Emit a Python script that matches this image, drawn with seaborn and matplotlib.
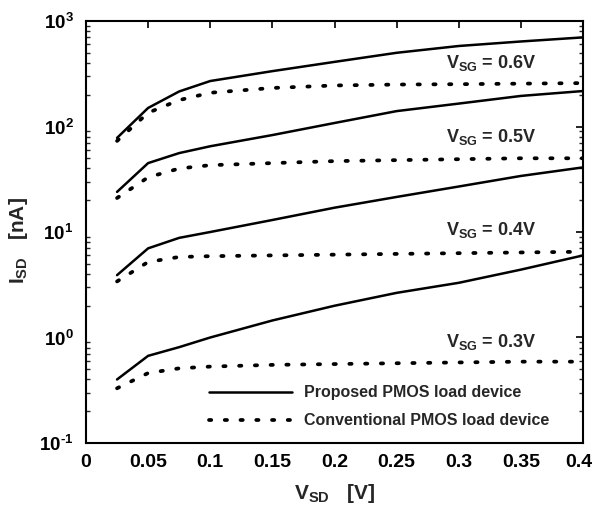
import numpy as np
import pandas as pd
import matplotlib
matplotlib.use("Agg")
import matplotlib.pyplot as plt
import matplotlib.transforms as mtransforms
import seaborn as sns
from matplotlib.ticker import FixedLocator, LogLocator, NullFormatter, NullLocator

sns.set_theme(style="white")
plt.rcParams['font.family'] = ['Liberation Sans', 'DejaVu Sans']
plt.rcParams['mathtext.fontset'] = 'custom'
plt.rcParams['mathtext.rm'] = 'Liberation Sans:bold'
plt.rcParams['mathtext.bf'] = 'Liberation Sans:bold'
plt.rcParams['mathtext.it'] = 'Liberation Sans:bold'
plt.rcParams['mathtext.default'] = 'bf'

# ---- data ----
vsd = [0.025, 0.05, 0.075, 0.1, 0.15, 0.2, 0.25, 0.3, 0.35, 0.4]
prop_06 = [78, 150, 215, 270, 335, 410, 500, 580, 640, 700]
conv_06 = [73, 135, 178, 209, 232, 245, 250, 252, 255, 258]
prop_05 = [24, 45, 56, 65, 83, 108, 140, 165, 195, 217]
conv_05 = [21, 33, 40, 43, 45, 47, 48, 49, 50, 50]
prop_04 = [3.9, 7.0, 8.8, 10, 13, 17, 21.5, 27, 34, 41]
conv_04 = [3.4, 5.2, 5.8, 5.9, 6.0, 6.1, 6.2, 6.3, 6.4, 6.5]
prop_03 = [0.40, 0.67, 0.81, 1.0, 1.45, 2.0, 2.65, 3.3, 4.4, 6.0]
conv_03 = [0.33, 0.46, 0.51, 0.53, 0.55, 0.56, 0.57, 0.58, 0.59, 0.59]
vsg_labels = ["0.6", "0.5", "0.4", "0.3"]
series_names = ["Proposed PMOS load device", "Conventional PMOS load device"]
x_ticks = [0, 0.05, 0.1, 0.15, 0.2, 0.25, 0.3, 0.35, 0.4]
x_ticklabels = ["0", "0.05", "0.1", "0.15", "0.2", "0.25", "0.3", "0.35", "0.4"]
y_ticks = [0.1, 1, 10, 100, 1000]
y_ticklabels = [r"$10^{\text{-}1}$", r"$10^{0}$", r"$10^{1}$", r"$10^{2}$", r"$10^{3}$"]
label_y = [400, 80, 10.4, 0.9]

rows = []
for vsg, p, c in zip(vsg_labels, [prop_06, prop_05, prop_04, prop_03],
                     [conv_06, conv_05, conv_04, conv_03]):
    for x, yp, yc in zip(vsd, p, c):
        rows.append(dict(vsd=x, isd=yp, device=series_names[0], vsg=vsg))
        rows.append(dict(vsd=x, isd=yc, device=series_names[1], vsg=vsg))
df = pd.DataFrame(rows)

fig = plt.figure(figsize=(5.95, 5.13), dpi=100)
ax = fig.add_axes([0.1445, 0.1365, 0.8355, 0.8225])

for name, ls, lw in [(series_names[0], '-', 1.8), (series_names[1], (0, (0.6, 3.6)), 2.7)]:
    sub = df[df.device == name]
    first = True
    for vsg in vsg_labels:
        s = sub[sub.vsg == vsg]
        sns.lineplot(data=s, x='vsd', y='isd', ax=ax, color='black',
                     linestyle=ls, linewidth=lw, estimator=None, sort=True,
                     label=name if first else None, legend=False,
                     dash_capstyle='round')
        first = False

ax.set_yscale('log')
ax.set_xlim(0, 0.4)
ax.set_ylim(0.1, 1000)
ax.xaxis.set_major_locator(FixedLocator(x_ticks))
ax.set_xticklabels(x_ticklabels, fontsize=14, fontweight='bold')
ax.yaxis.set_major_locator(FixedLocator(y_ticks))
ax.set_yticklabels(y_ticklabels, fontsize=13.5)
ax.yaxis.set_minor_locator(LogLocator(base=10, subs=np.arange(2, 10)))
ax.yaxis.set_minor_formatter(NullFormatter())
ax.xaxis.set_minor_locator(NullLocator())
ax.tick_params(axis='both', which='major', direction='in', top=True, right=True,
               length=5, width=1.2, colors='black')
ax.tick_params(axis='x', which='major', pad=8)
ax.tick_params(axis='y', which='major', pad=9)
ax.tick_params(axis='y', which='minor', direction='in', left=True, right=True,
               length=3, width=1.0)
for sp in ax.spines.values():
    sp.set_linewidth(1.5)
    sp.set_color('black')

# nudge the last x tick label so it stays inside the figure
last_lbl = ax.get_xticklabels()[-1]
last_lbl.set_transform(last_lbl.get_transform() +
                       mtransforms.ScaledTranslation(-4 / 100, 0, fig.dpi_scale_trans))

ax.set_xlabel(r"V$_{SD}$   [V]", fontsize=15, fontweight='bold', labelpad=8)
ax.set_ylabel(r"I$_{SD}$   [nA]", fontsize=15, fontweight='bold')
ax.yaxis.set_label_coords(-0.112, 0.48)

for vsg, yy in zip(vsg_labels, label_y):
    ax.text(0.29, yy, r"V$_{SG}$ = " + vsg + "V", fontsize=13, fontweight='bold',
            ha='left', va='center')

handles = ax.get_lines()
leg_handles = [h for h in handles if h.get_label() in series_names]
ax.legend(handles=leg_handles, labels=series_names, loc='lower right',
          frameon=False, prop={'weight': 'bold', 'size': 11.5},
          handlelength=5.2, handletextpad=0.75, labelspacing=0.8,
          borderpad=0, borderaxespad=0,
          bbox_to_anchor=((549 - 86) / 497, 0.035))

fig.savefig("out.png", dpi=100)
